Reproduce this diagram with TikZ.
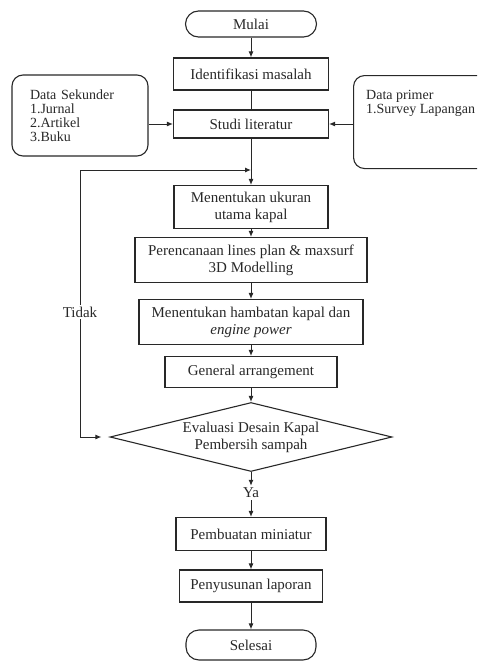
\documentclass[tikz,border=0pt]{standalone}
\usepackage{fontspec}
\setmainfont{Liberation Serif}
\usepackage{xcolor}
\usetikzlibrary{arrows.meta,shapes.geometric}
\definecolor{ink}{RGB}{40,40,40}

\begin{document}
\begin{tikzpicture}[
  x=1pt, y=-1pt,
  font=\fontsize{15}{17}\selectfont,
  color=ink,
  box/.style={draw, line width=1.1pt, inner sep=0pt, align=center},
  term/.style={box, rounded corners=13pt},
  cond/.style={draw, diamond, line width=1.1pt, inner sep=0pt, aspect=4.1, align=center},
  src/.style={draw, line width=1.1pt, rounded corners=11pt, inner sep=0pt},
  srctext/.style={font=\fontsize{14}{14}\selectfont, align=left, inner sep=0pt},
  flow/.style={-{Latex[length=6pt,width=5pt]}, line width=1pt}
]
\clip (0,0) rectangle (477,661);
% main chain
\node[term, minimum width=131pt, minimum height=26pt] (mulai) at (251,24) {Mulai};
\node[box, minimum width=155pt, minimum height=32pt] (ident) at (251,74) {Identifikasi masalah};
\node[box, minimum width=155pt, minimum height=28pt] (studi) at (251,124) {Studi literatur};
\node[box, minimum width=154pt, minimum height=43pt] (ukuran) at (251,207) {Menentukan ukuran\\utama kapal};
\node[box, minimum width=232pt, minimum height=45pt] (plan) at (251,260) {Perencanaan lines plan \& maxsurf\\3D Modelling};
\node[box, minimum width=224pt, minimum height=45pt] (hambatan) at (251,322) {Menentukan hambatan kapal dan\\{\itshape engine power}};
\node[box, minimum width=172pt, minimum height=31pt] (ga) at (251,372) {General arrangement};
\node[cond, minimum width=282pt, minimum height=69pt] (eval) at (251,437) {Evaluasi Desain Kapal\\Pembersih sampah};
\node[inner sep=2pt] (ya) at (251,493) {Ya};
\node[box, minimum width=150pt, minimum height=33pt] (miniatur) at (251,534) {Pembuatan miniatur};
\node[box, minimum width=143pt, minimum height=32pt] (laporan) at (251,586) {Penyusunan laporan};
\node[term, minimum width=130pt, minimum height=30pt] (selesai) at (251,645) {Selesai};

% data sources
\node[src, minimum width=136pt, minimum height=81pt] (sekunder) at (80,115.5) {};
\node[srctext, text width=100pt] (sekundertext) at (sekunder) {Data Sekunder\\1.Jurnal\\2.Artikel\\3.Buku};
\node[src, anchor=north west, minimum width=140pt, minimum height=93pt] (primer) at (353,75) {};
\node[srctext, anchor=north west] (primertext) at (366,90) {Data primer\\1.Survey Lapangan};

% loop back
\coordinate (join) at (251,170);
\coordinate (loop) at (80,170);
\node[inner sep=2pt] (tidak) at (80,312) {Tidak};

% connectors
\foreach \a/\b in {mulai/ident, ukuran/plan, plan/hambatan, hambatan/ga, ga/eval, miniatur/laporan, laporan/selesai}
  \draw[flow] (\a) -- (\b);
\draw[line width=1pt] (ident) -- (studi);
\draw[flow] (sekunder.east |- studi) -- (studi.west);
\draw[flow] (primer.west |- studi) -- (studi.east);
\draw[flow] (studi) -- (ukuran);
\draw[flow] (tidak.north) -- (loop) -- (join);
\draw[flow, shorten >=8pt] (tidak.south) |- (eval.west);
\draw[flow] (eval.south) -- (ya.north);
\draw[flow] (ya.south) -- (miniatur.north);
\end{tikzpicture}
\end{document}
